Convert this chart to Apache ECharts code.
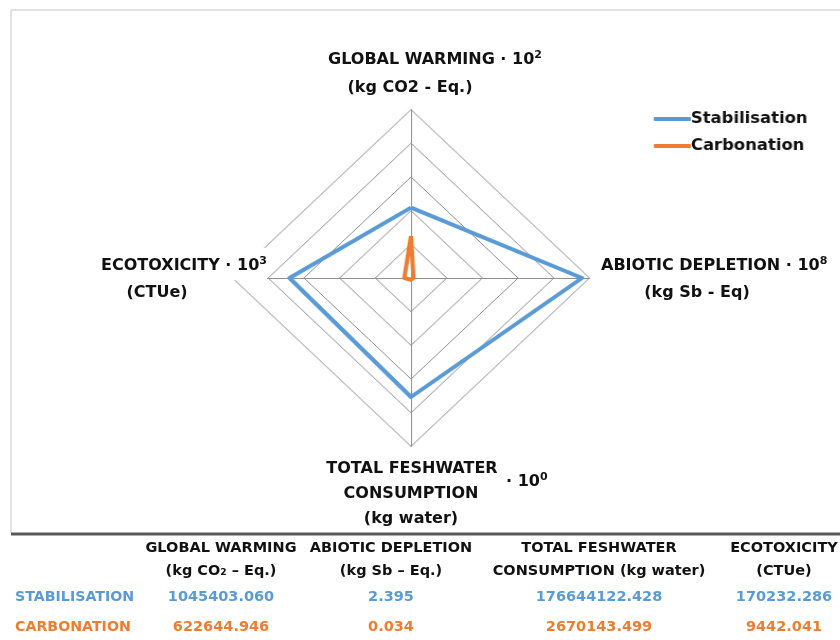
<!DOCTYPE html>
<html>
<head>
<meta charset="utf-8">
<script src="https://cdn.jsdelivr.net/npm/echarts@6/dist/echarts.min.js"></script>
<style>
  html, body { margin: 0; padding: 0; background: #ffffff; }
  #wrap { position: relative; width: 840px; height: 640px; overflow: hidden; }
  #radarChart { position: absolute; left: 0; top: 0; width: 840px; height: 640px;
                transform: scaleX(1.06); transform-origin: 411px 0; }
  #overlay { position: absolute; left: 0; top: 0; width: 840px; height: 640px; pointer-events: none; }
</style>
</head>
<body>
<div id="wrap">
  <div id="radarChart"></div>
  <div id="overlay"></div>
</div>
<script>
// Impact categories, in table order
const categories = ['GLOBAL WARMING', 'ABIOTIC DEPLETION', 'TOTAL FESHWATER CONSUMPTION', 'ECOTOXICITY'];
const axisUnits = ['(kg CO2 - Eq.)', '(kg Sb - Eq)', '(kg water)', '(CTUe)'];
// Scale factor applied to each category on the radar (· 10^n)
const scaleFactors = [1e2, 1e8, 1e0, 1e3];
const scaleExponents = ['2', '8', '0', '3'];

const seriesNames = ['Stabilisation', 'Carbonation'];
const stabilisation = [1045403.060, 2.395, 176644122.428, 170232.286];
const carbonation = [622644.946, 0.034, 2670143.499, 9442.041];

// Table text
const tableHead1 = ['GLOBAL WARMING', 'ABIOTIC DEPLETION', 'TOTAL FESHWATER', 'ECOTOXICITY'];
const tableHead2 = ['(kg CO₂ – Eq.)', '(kg Sb – Eq.)', 'CONSUMPTION (kg water)', '(CTUe)'];
const rowLabels = ['STABILISATION', 'CARBONATION'];

const radarMax = 250000000;
const colors = ['#5B9BD5', '#ED7D31'];
const FONT = '"DejaVu Sans", sans-serif';

// Radar order (counter-clockwise from top): global warming, ecotoxicity, freshwater, abiotic
const radarOrder = [0, 3, 2, 1];
const scaled = arr => radarOrder.map(i => arr[i] * scaleFactors[i]);

const radarChart = echarts.init(document.getElementById('radarChart'));
radarChart.setOption({
  animation: false,
  color: colors,
  legend: {
    orient: 'vertical',
    left: 635,
    top: 104,
    icon: 'roundRect',
    itemWidth: 35,
    itemHeight: 4,
    itemGap: 7,
    textStyle: { fontFamily: FONT, fontWeight: 'bold', fontSize: 15.5, color: '#111', lineHeight: 20, padding: [0, 0, 0, -5] },
    data: seriesNames
  },
  radar: {
    center: [411, 278],
    radius: 168.4,
    startAngle: 90,
    shape: 'polygon',
    splitNumber: 5,
    indicator: radarOrder.map(i => ({ name: categories[i], max: radarMax, min: 0 })),
    axisName: { show: false },
    splitLine: { lineStyle: { color: '#909090', width: 1 } },
    splitArea: { show: false },
    axisLine: { lineStyle: { color: '#909090', width: 1 } },
    axisTick: { show: false },
    axisLabel: { show: false }
  },
  series: [
    {
      type: 'radar', name: seriesNames[0], symbol: 'none',
      lineStyle: { width: 4, color: colors[0] },
      itemStyle: { color: colors[0] },
      data: [{ name: seriesNames[0], value: scaled(stabilisation) }]
    },
    {
      type: 'radar', name: seriesNames[1], symbol: 'none',
      lineStyle: { width: 4, color: colors[1] },
      itemStyle: { color: colors[1] },
      data: [{ name: seriesNames[1], value: scaled(carbonation) }]
    }
  ]
});

// Overlay: axis titles, frame lines and the value table
function txt(text, x, y, opts) {
  opts = opts || {};
  const size = opts.size || 14;
  const fill = opts.color || '#111';
  return {
    type: 'text', x: x, y: y, z: 20,
    style: {
      text: text,
      fontFamily: FONT,
      fontWeight: 'bold',
      fontSize: size,
      fill: fill,
      textAlign: opts.align || 'center',
      textVerticalAlign: 'middle',
      rich: {
        b: { fontFamily: FONT, fontWeight: 'bold', fontSize: size, lineHeight: 20, fill: fill },
        s: { fontFamily: FONT, fontWeight: 'bold', fontSize: Math.round(size * 0.68), lineHeight: 20, verticalAlign: 'top', fill: fill }
      }
    }
  };
}
const withPower = (label, exp) => '{b|' + label + ' · 10}{s|' + exp + '}';

const els = [];
// Chart frame
els.push({ type: 'line', z: 5, shape: { x1: 11, y1: 10, x2: 840, y2: 10 }, style: { stroke: '#d9d9d9', lineWidth: 1.5 } });
els.push({ type: 'line', z: 5, shape: { x1: 11, y1: 10, x2: 11, y2: 533 }, style: { stroke: '#d9d9d9', lineWidth: 1.5 } });
els.push({ type: 'line', z: 5, shape: { x1: 11, y1: 534, x2: 840, y2: 534 }, style: { stroke: '#595959', lineWidth: 3 } });

// Label box for the ecotoxicity axis covers the outer ring corner
els.push({ type: 'rect', z: 10, shape: { x: 90, y: 248, width: 177, height: 32 }, style: { fill: '#ffffff' } });

const AX = 16;
// Global warming (top)
els.push(txt(withPower(categories[0], scaleExponents[0]), 435, 60, { size: AX }));
els.push(txt(axisUnits[0], 410, 88, { size: AX }));
// Abiotic depletion (right)
els.push(txt(withPower(categories[1], scaleExponents[1]), 601, 266, { size: AX, align: 'left' }));
els.push(txt(axisUnits[1], 697, 293, { size: AX }));
// Ecotoxicity (left)
els.push(txt(withPower(categories[3], scaleExponents[3]), 184, 266, { size: AX }));
els.push(txt(axisUnits[3], 157, 293, { size: AX }));
// Total freshwater consumption (bottom)
const fw = categories[2].split(' ');
els.push(txt(fw[0] + ' ' + fw[1], 412, 469, { size: AX }));
els.push(txt(fw[2], 411, 494, { size: AX }));
els.push(txt(axisUnits[2], 411, 519, { size: AX }));
els.push(txt('{b|· 10}{s|' + scaleExponents[2] + '}', 506, 482, { size: AX, align: 'left' }));

// Table
const colX = [221, 391, 599, 784];
const rowY = [597, 627];
colX.forEach((x, i) => {
  els.push(txt(tableHead1[i], x, 548, { size: 14.5 }));
  els.push(txt(tableHead2[i], x, 571, { size: 14.5 }));
  els.push(txt(stabilisation[i].toFixed(3), x, rowY[0], { size: 14.5, color: colors[0] }));
  els.push(txt(carbonation[i].toFixed(3), x, rowY[1], { size: 14.5, color: colors[1] }));
});
rowLabels.forEach((r, j) => {
  els.push(txt(r, 15, rowY[j], { size: 14.2, color: colors[j], align: 'left' }));
});

const overlay = echarts.init(document.getElementById('overlay'));
overlay.setOption({ animation: false, graphic: { elements: els } });
</script>
</body>
</html>
